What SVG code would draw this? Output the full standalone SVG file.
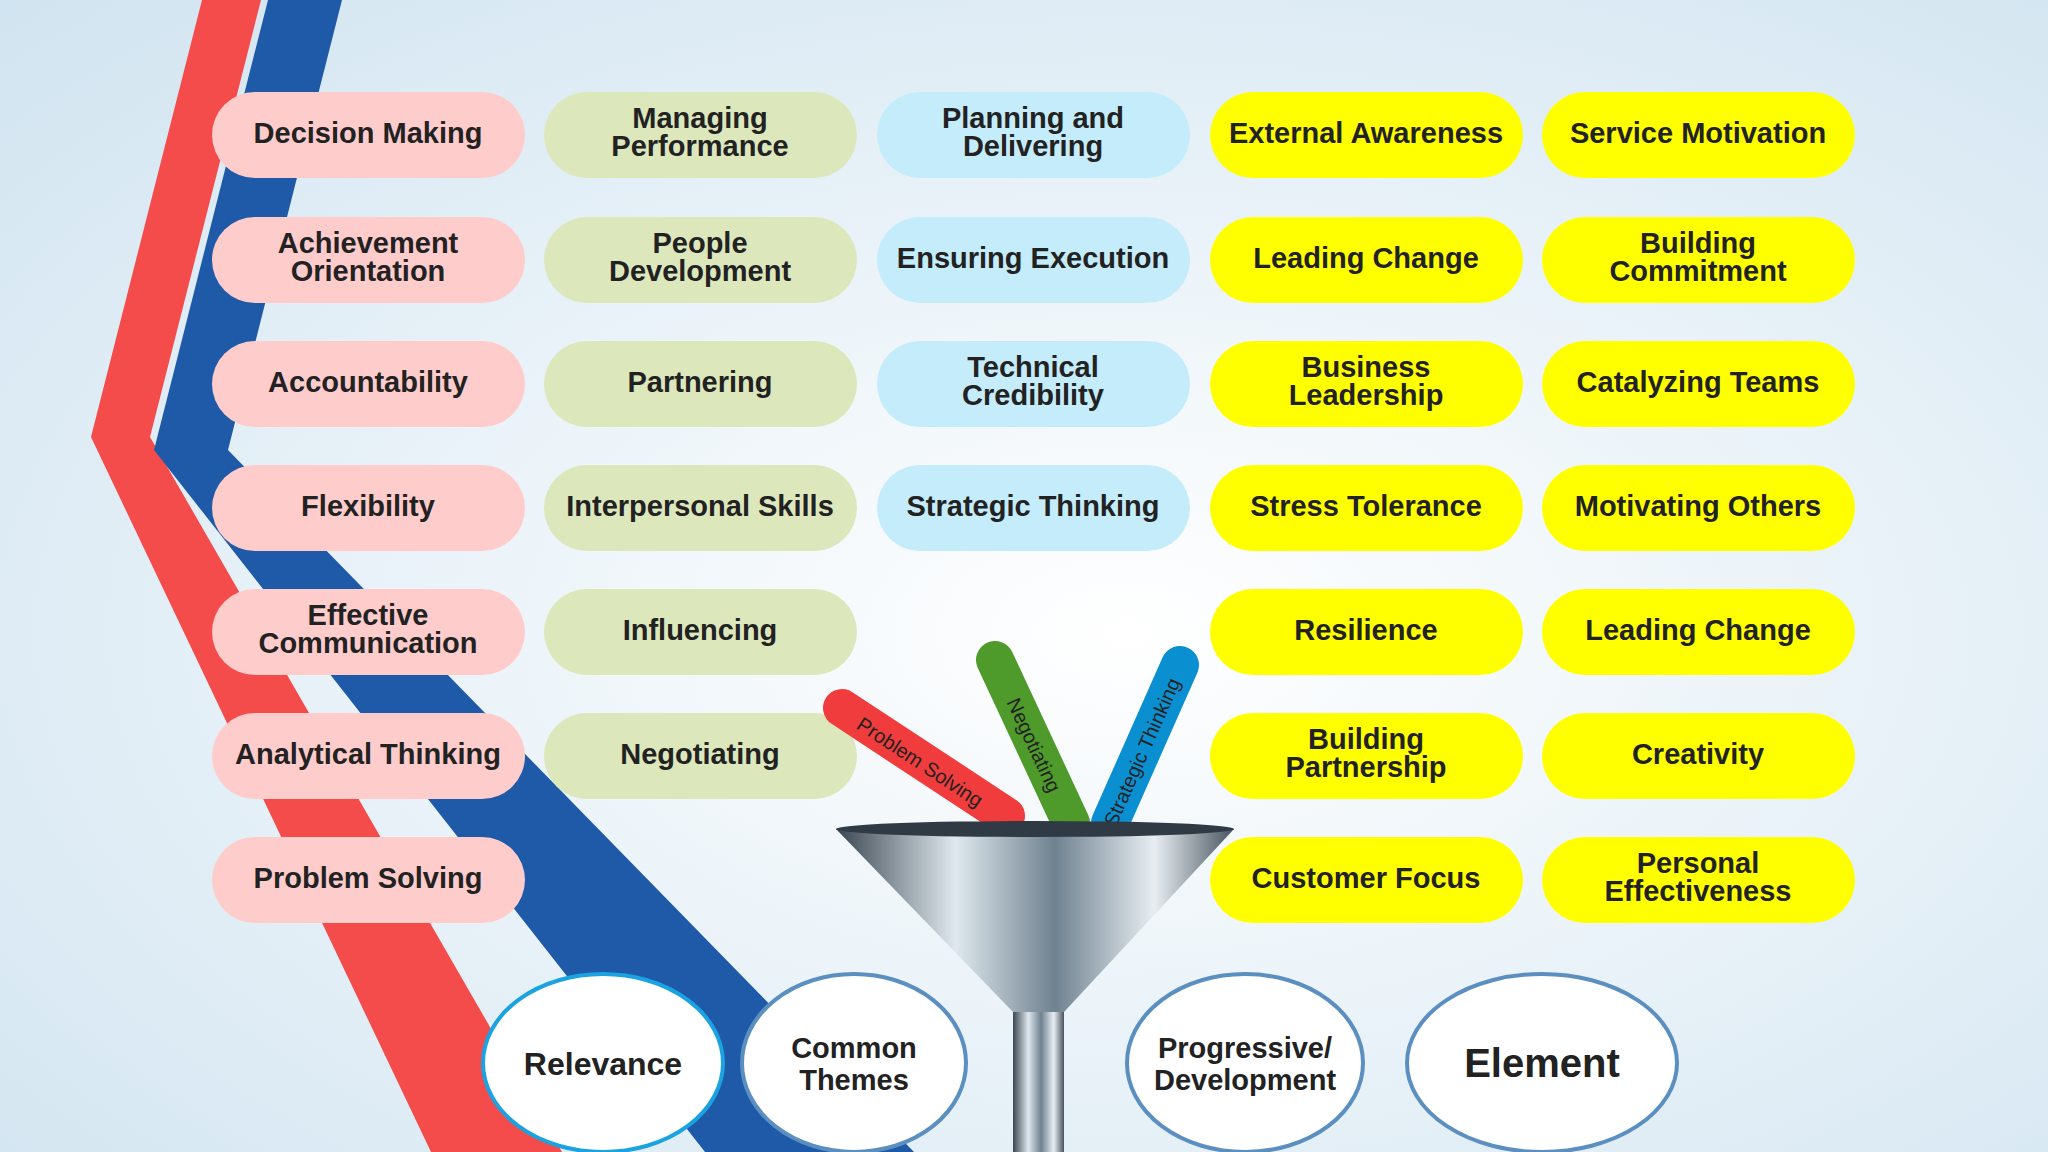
<svg xmlns="http://www.w3.org/2000/svg" width="2048" height="1152" viewBox="0 0 2048 1152">
<defs>
<radialGradient id="bg" cx="0.55" cy="0.55" r="0.8"><stop offset="0" stop-color="#ffffff"/><stop offset="1" stop-color="#cfe3f0"/></radialGradient>
<linearGradient id="steel" x1="0" y1="0" x2="1" y2="0"><stop offset="0" stop-color="#3a4650"/><stop offset="0.3" stop-color="#dfe8ee"/><stop offset="0.55" stop-color="#6f8290"/><stop offset="0.8" stop-color="#e8eef2"/><stop offset="1" stop-color="#48545e"/></linearGradient>
<style>
.p rect{stroke:none}
.pk{fill:#ffcccc}.gr{fill:#dce8bc}.bl{fill:#c4ecfb}.ye{fill:#ffff00}
text{font-family:"Liberation Sans",Arial,sans-serif;font-weight:bold;fill:#222;text-anchor:middle}
.t{font-size:29px}
.c ellipse{fill:#fff;stroke:#5b8fc0;stroke-width:4}
.ct{font-size:32px}
.st{font-size:20px;font-weight:normal}
</style>
</defs>
<rect width="2048" height="1152" fill="url(#bg)"/>
<polygon points="202,0 261,0 150,437 562,1152 431,1152 91,437" fill="#f44b4b"/>
<polygon points="268,0 342,0 228,450 914,1152 705,1152 154,450" fill="#1f5aa8"/>
<g id="connectors"></g>
<g id="pills" class="p">
<g id="n1"><rect class="pk" x="212" y="92" width="313" height="86" rx="43"/><text class="t" x="368" y="143">Decision Making</text></g>
<g id="n2"><rect class="pk" x="212" y="217" width="313" height="86" rx="43"/><text class="t" x="368" y="253">Achievement</text><text class="t" x="368" y="281">Orientation</text></g>
<g id="n3"><rect class="pk" x="212" y="341" width="313" height="86" rx="43"/><text class="t" x="368" y="392">Accountability</text></g>
<g id="n4"><rect class="pk" x="212" y="465" width="313" height="86" rx="43"/><text class="t" x="368" y="516">Flexibility</text></g>
<g id="n5"><rect class="pk" x="212" y="589" width="313" height="86" rx="43"/><text class="t" x="368" y="625">Effective</text><text class="t" x="368" y="653">Communication</text></g>
<g id="n6"><rect class="pk" x="212" y="713" width="313" height="86" rx="43"/><text class="t" x="368" y="764">Analytical Thinking</text></g>
<g id="n7"><rect class="pk" x="212" y="837" width="313" height="86" rx="43"/><text class="t" x="368" y="888">Problem Solving</text></g>
<g id="n8"><rect class="gr" x="544" y="92" width="313" height="86" rx="43"/><text class="t" x="700" y="128">Managing</text><text class="t" x="700" y="156">Performance</text></g>
<g id="n9"><rect class="gr" x="544" y="217" width="313" height="86" rx="43"/><text class="t" x="700" y="253">People</text><text class="t" x="700" y="281">Development</text></g>
<g id="n10"><rect class="gr" x="544" y="341" width="313" height="86" rx="43"/><text class="t" x="700" y="392">Partnering</text></g>
<g id="n11"><rect class="gr" x="544" y="465" width="313" height="86" rx="43"/><text class="t" x="700" y="516">Interpersonal Skills</text></g>
<g id="n12"><rect class="gr" x="544" y="589" width="313" height="86" rx="43"/><text class="t" x="700" y="640">Influencing</text></g>
<g id="n13"><rect class="gr" x="544" y="713" width="313" height="86" rx="43"/><text class="t" x="700" y="764">Negotiating</text></g>
<g id="n14"><rect class="bl" x="877" y="92" width="313" height="86" rx="43"/><text class="t" x="1033" y="128">Planning and</text><text class="t" x="1033" y="156">Delivering</text></g>
<g id="n15"><rect class="bl" x="877" y="217" width="313" height="86" rx="43"/><text class="t" x="1033" y="268">Ensuring Execution</text></g>
<g id="n16"><rect class="bl" x="877" y="341" width="313" height="86" rx="43"/><text class="t" x="1033" y="377">Technical</text><text class="t" x="1033" y="405">Credibility</text></g>
<g id="n17"><rect class="bl" x="877" y="465" width="313" height="86" rx="43"/><text class="t" x="1033" y="516">Strategic Thinking</text></g>
<g id="n18"><rect class="ye" x="1210" y="92" width="313" height="86" rx="43"/><text class="t" x="1366" y="143">External Awareness</text></g>
<g id="n19"><rect class="ye" x="1210" y="217" width="313" height="86" rx="43"/><text class="t" x="1366" y="268">Leading Change</text></g>
<g id="n20"><rect class="ye" x="1210" y="341" width="313" height="86" rx="43"/><text class="t" x="1366" y="377">Business</text><text class="t" x="1366" y="405">Leadership</text></g>
<g id="n21"><rect class="ye" x="1210" y="465" width="313" height="86" rx="43"/><text class="t" x="1366" y="516">Stress Tolerance</text></g>
<g id="n22"><rect class="ye" x="1210" y="589" width="313" height="86" rx="43"/><text class="t" x="1366" y="640">Resilience</text></g>
<g id="n23"><rect class="ye" x="1210" y="713" width="313" height="86" rx="43"/><text class="t" x="1366" y="749">Building</text><text class="t" x="1366" y="777">Partnership</text></g>
<g id="n24"><rect class="ye" x="1210" y="837" width="313" height="86" rx="43"/><text class="t" x="1366" y="888">Customer Focus</text></g>
<g id="n25"><rect class="ye" x="1542" y="92" width="313" height="86" rx="43"/><text class="t" x="1698" y="143">Service Motivation</text></g>
<g id="n26"><rect class="ye" x="1542" y="217" width="313" height="86" rx="43"/><text class="t" x="1698" y="253">Building</text><text class="t" x="1698" y="281">Commitment</text></g>
<g id="n27"><rect class="ye" x="1542" y="341" width="313" height="86" rx="43"/><text class="t" x="1698" y="392">Catalyzing Teams</text></g>
<g id="n28"><rect class="ye" x="1542" y="465" width="313" height="86" rx="43"/><text class="t" x="1698" y="516">Motivating Others</text></g>
<g id="n29"><rect class="ye" x="1542" y="589" width="313" height="86" rx="43"/><text class="t" x="1698" y="640">Leading Change</text></g>
<g id="n30"><rect class="ye" x="1542" y="713" width="313" height="86" rx="43"/><text class="t" x="1698" y="764">Creativity</text></g>
<g id="n31"><rect class="ye" x="1542" y="837" width="313" height="86" rx="43"/><text class="t" x="1698" y="873">Personal</text><text class="t" x="1698" y="901">Effectiveness</text></g>
</g>
<g id="sticks">
<line x1="842" y1="708" x2="1006" y2="816" stroke="#f03c3c" stroke-width="38" stroke-linecap="round"/>
<text class="st" transform="translate(920,762) rotate(33.4)" dy="7">Problem Solving</text>
<line x1="995" y1="660" x2="1071" y2="823" stroke="#4e9a2a" stroke-width="38" stroke-linecap="round"/>
<text class="st" transform="translate(1034,745) rotate(65)" dy="7">Negotiating</text>
<line x1="1180" y1="665" x2="1110" y2="823" stroke="#0a8fd0" stroke-width="38" stroke-linecap="round"/>
<text class="st" transform="translate(1142,752) rotate(-66)" dy="7">Strategic Thinking</text>
</g>
<g id="funnel">
<rect x="1013" y="1005" width="51" height="147" fill="url(#steel)"/>
<path d="M836,829 L1234,829 L1064,1012 L1013,1012 Z" fill="url(#steel)"/>
<ellipse cx="1035" cy="829" rx="199" ry="8" fill="#2f3a44"/>
</g>
<g id="circles" class="c">
<g id="c1"><ellipse cx="603" cy="1063" rx="120" ry="89" style="stroke:#1aa3e0"/><text class="ct" x="603" y="1075">Relevance</text></g>
<g id="c2"><ellipse cx="854" cy="1063" rx="112" ry="89"/><text class="ct" x="854" y="1058" style="font-size:29px">Common</text><text class="ct" x="854" y="1090" style="font-size:29px">Themes</text></g>
<g id="c3"><ellipse cx="1245" cy="1063" rx="118" ry="89"/><text class="ct" x="1245" y="1058" style="font-size:29px">Progressive/</text><text class="ct" x="1245" y="1090" style="font-size:29px">Development</text></g>
<g id="c4"><ellipse cx="1542" cy="1063" rx="135" ry="89"/><text class="ct" x="1542" y="1077" style="font-size:40px">Element</text></g>
</g>
</svg>
